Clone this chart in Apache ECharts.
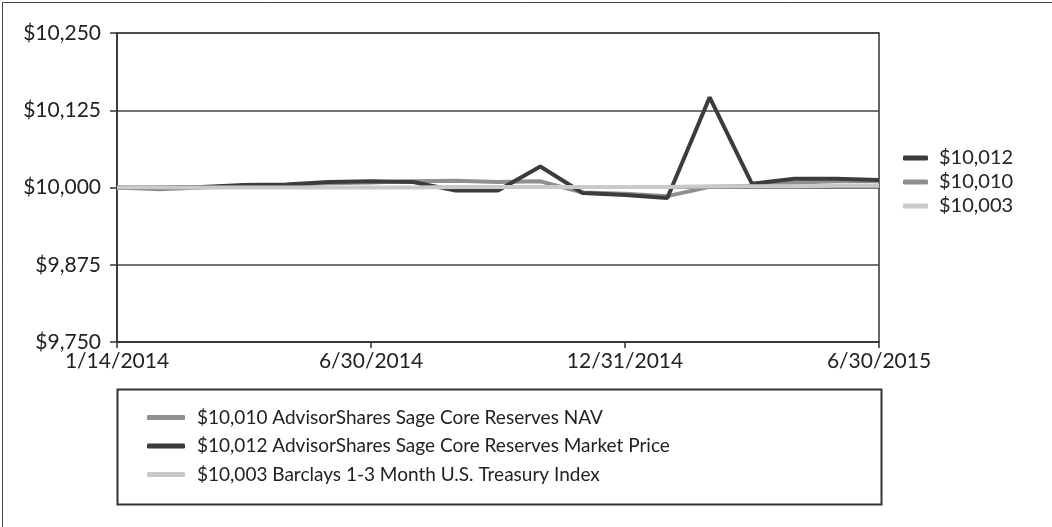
<!DOCTYPE html>
<html>
<head>
<meta charset="utf-8">
<script src="https://cdn.jsdelivr.net/npm/echarts@6/dist/echarts.min.js"></script>
<style>
html,body{margin:0;padding:0;background:#fff;}
#chart{width:1052px;height:527px;}
</style>
</head>
<body>
<div id="chart"></div>
<script>
const dates = ['1/14/2014','1/31/2014','2/28/2014','3/31/2014','4/30/2014','5/31/2014','6/30/2014',
  '7/31/2014','8/31/2014','9/30/2014','10/31/2014','11/30/2014','12/31/2014',
  '1/31/2015','2/28/2015','3/31/2015','4/30/2015','5/31/2015','6/30/2015'];
const navValues = [10000, 9997, 10000, 10003, 10004, 10007, 10008, 10010, 10011, 10009, 10010, 9992, 9990, 9986, 10001, 10003, 10008, 10010, 10010];
const marketValues = [10000, 10000, 10001, 10004, 10005, 10009, 10010, 10009, 9995, 9995, 10034, 9991, 9988, 9983, 10146, 10006, 10014, 10014, 10012];
const treasuryValues = [10000, 10000, 10000, 10000, 10000, 10000, 10000, 10000, 10001, 10001, 10001, 10001, 10001, 10001, 10002, 10002, 10002, 10003, 10003];
const seriesNames = ['$10,010 AdvisorShares Sage Core Reserves NAV',
  '$10,012 AdvisorShares Sage Core Reserves Market Price',
  '$10,003 Barclays 1-3 Month U.S. Treasury Index'];
const endLabels = ['$10,010', '$10,012', '$10,003'];
const yTicks = {min: 9750, max: 10250, interval: 125};

const FONT = 'Lato';
const colors = ['#8f8f8f', '#3c3c3c', '#c9c9c9'];
const chart = echarts.init(document.getElementById('chart'), null, {renderer: 'canvas'});
const fmtMoney = v => '$' + Number(v).toLocaleString('en-US');

chart.setOption({
  animation: false,
  color: colors,
  textStyle: {fontFamily: FONT},
  grid: {left: 117, right: 173, top: 33, bottom: 185, show: true, borderColor: '#333', borderWidth: 1.5, containLabel: false},
  xAxis: {
    type: 'category', data: dates, boundaryGap: false,
    axisLine: {lineStyle: {color: '#333', width: 1.5}},
    axisTick: {show: true, interval: 5, length: 6, lineStyle: {color: '#333', width: 1.5}},
    axisLabel: {interval: 5, margin: 9, fontSize: 21, color: '#222', fontFamily: FONT, showMinLabel: true, showMaxLabel: true},
    splitLine: {show: false}
  },
  yAxis: {
    type: 'value', min: yTicks.min, max: yTicks.max, interval: yTicks.interval,
    axisLine: {show: true, lineStyle: {color: '#333', width: 1.5}},
    axisTick: {show: true, inside: false, length: 7, lineStyle: {color: '#333', width: 1.5}},
    axisLabel: {margin: 16, fontSize: 21, color: '#222', fontFamily: FONT, formatter: fmtMoney},
    splitLine: {show: true, lineStyle: {color: '#444', width: 1.5}}
  },
  legend: [
    {
      orient: 'vertical', left: 142, top: 403, itemGap: 9.5,
      itemWidth: 38, itemHeight: 5, icon: 'roundRect',
      data: seriesNames,
      textStyle: {fontSize: 19, color: '#222', fontFamily: FONT, padding: [0, 0, 0, 7]}
    },
    {
      orient: 'vertical', left: 898, top: 143, itemGap: 4,
      itemWidth: 25, itemHeight: 5, icon: 'roundRect',
      data: [seriesNames[1], seriesNames[0], seriesNames[2]],
      formatter: name => endLabels[seriesNames.indexOf(name)],
      textStyle: {fontSize: 20, color: '#222', fontFamily: FONT, padding: [0, 0, 0, 6]}
    }
  ],
  graphic: [
    {type: 'rect', left: 0, top: 0, shape: {width: 1051, height: 526}, style: {fill: 'none', stroke: '#444', lineWidth: 1}, silent: true},
    {type: 'rect', left: 115, top: 387, shape: {width: 764, height: 115}, style: {fill: 'none', stroke: '#333', lineWidth: 2}, silent: true}
  ],
  series: [
    {name: seriesNames[0], type: 'line', data: navValues, showSymbol: false, lineStyle: {width: 4, color: colors[0]}, itemStyle: {color: colors[0]}, z: 2},
    {name: seriesNames[1], type: 'line', data: marketValues, showSymbol: false, lineStyle: {width: 4, color: colors[1]}, itemStyle: {color: colors[1]}, z: 3},
    {name: seriesNames[2], type: 'line', data: treasuryValues, showSymbol: false, lineStyle: {width: 4, color: colors[2]}, itemStyle: {color: colors[2]}, z: 4}
  ]
});
</script>
</body>
</html>
